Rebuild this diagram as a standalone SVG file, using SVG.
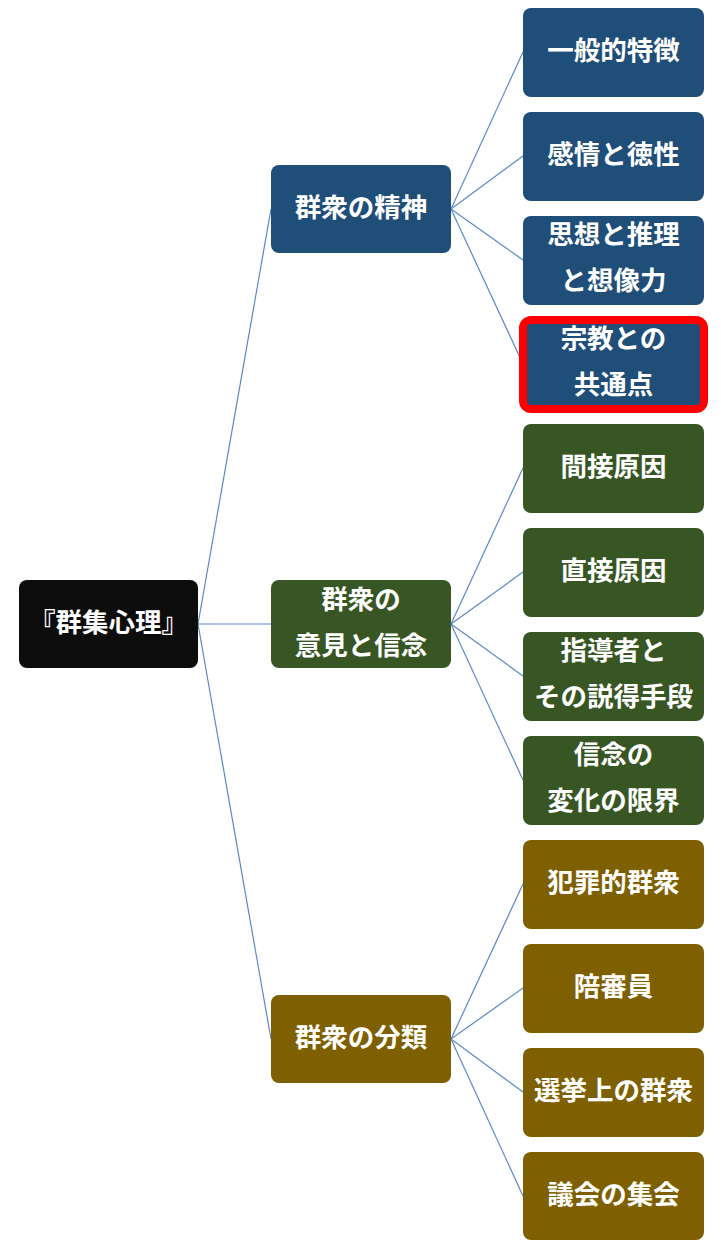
<svg xmlns="http://www.w3.org/2000/svg" width="721" height="1248" viewBox="0 0 721 1248">
<style>
.t{font-family:"Noto Sans CJK JP","Noto Sans CJK SC",sans-serif;font-weight:bold;font-size:26.5px;fill:#fff;text-anchor:middle;dominant-baseline:central}
.b{fill:#1f4e79}.g{fill:#375623}.y{fill:#7f6000}.k{fill:#0d0d0d}
.c line{stroke:#5a8ac6;stroke-width:1.2}
</style>
<rect width="721" height="1248" fill="#fff"/>
<g class="c">
<line x1="198" y1="624" x2="271" y2="209"/>
<line x1="198" y1="624" x2="271" y2="624"/>
<line x1="198" y1="624" x2="271" y2="1039"/>
<line x1="451" y1="209" x2="523" y2="52"/>
<line x1="451" y1="209" x2="523" y2="156"/>
<line x1="451" y1="209" x2="523" y2="260"/>
<line x1="451" y1="209" x2="523" y2="364"/>
<line x1="451" y1="624" x2="523" y2="468"/>
<line x1="451" y1="624" x2="523" y2="572"/>
<line x1="451" y1="624" x2="523" y2="676"/>
<line x1="451" y1="624" x2="523" y2="780"/>
<line x1="451" y1="1039" x2="523" y2="884"/>
<line x1="451" y1="1039" x2="523" y2="988"/>
<line x1="451" y1="1039" x2="523" y2="1092"/>
<line x1="451" y1="1039" x2="523" y2="1196"/>
</g>
<g id="root"><rect class="k" x="19" y="580" width="179" height="88" rx="8"/><text class="t" x="108.5" y="620">『群集心理』</text></g>
<g id="n1"><rect class="b" x="271" y="165" width="180" height="88" rx="8"/><text class="t" x="361" y="205">群衆の精神</text></g>
<g id="n2"><rect class="g" x="271" y="580" width="180" height="88" rx="8"/><text class="t" x="361" y="597">群衆の</text><text class="t" x="361" y="643">意見と信念</text></g>
<g id="n3"><rect class="y" x="271" y="995" width="180" height="88" rx="8"/><text class="t" x="361" y="1035">群衆の分類</text></g>
<g id="a1"><rect class="b" x="523" y="8" width="181" height="89" rx="8"/><text class="t" x="613.5" y="48">一般的特徴</text></g>
<g id="a2"><rect class="b" x="523" y="112" width="181" height="89" rx="8"/><text class="t" x="613.5" y="152">感情と徳性</text></g>
<g id="a3"><rect class="b" x="523" y="216" width="181" height="89" rx="8"/><text class="t" x="613.5" y="232">思想と推理</text><text class="t" x="613.5" y="278">と想像力</text></g>
<g id="a4"><rect class="b" x="523" y="320" width="181" height="89" rx="8" stroke="#ff0000" stroke-width="8"/><text class="t" x="613.5" y="336">宗教との</text><text class="t" x="613.5" y="382">共通点</text></g>
<g id="b1"><rect class="g" x="523" y="424" width="181" height="89" rx="8"/><text class="t" x="613.5" y="464">間接原因</text></g>
<g id="b2"><rect class="g" x="523" y="528" width="181" height="89" rx="8"/><text class="t" x="613.5" y="568">直接原因</text></g>
<g id="b3"><rect class="g" x="523" y="632" width="181" height="89" rx="8"/><text class="t" x="613.5" y="648">指導者と</text><text class="t" x="613.5" y="694">その説得手段</text></g>
<g id="b4"><rect class="g" x="523" y="736" width="181" height="89" rx="8"/><text class="t" x="613.5" y="752">信念の</text><text class="t" x="613.5" y="798">変化の限界</text></g>
<g id="c1"><rect class="y" x="523" y="840" width="181" height="89" rx="8"/><text class="t" x="613.5" y="880">犯罪的群衆</text></g>
<g id="c2"><rect class="y" x="523" y="944" width="181" height="89" rx="8"/><text class="t" x="613.5" y="984">陪審員</text></g>
<g id="c3"><rect class="y" x="523" y="1048" width="181" height="89" rx="8"/><text class="t" x="613.5" y="1088">選挙上の群衆</text></g>
<g id="c4"><rect class="y" x="523" y="1152" width="181" height="88" rx="8"/><text class="t" x="613.5" y="1192">議会の集会</text></g>
</svg>
